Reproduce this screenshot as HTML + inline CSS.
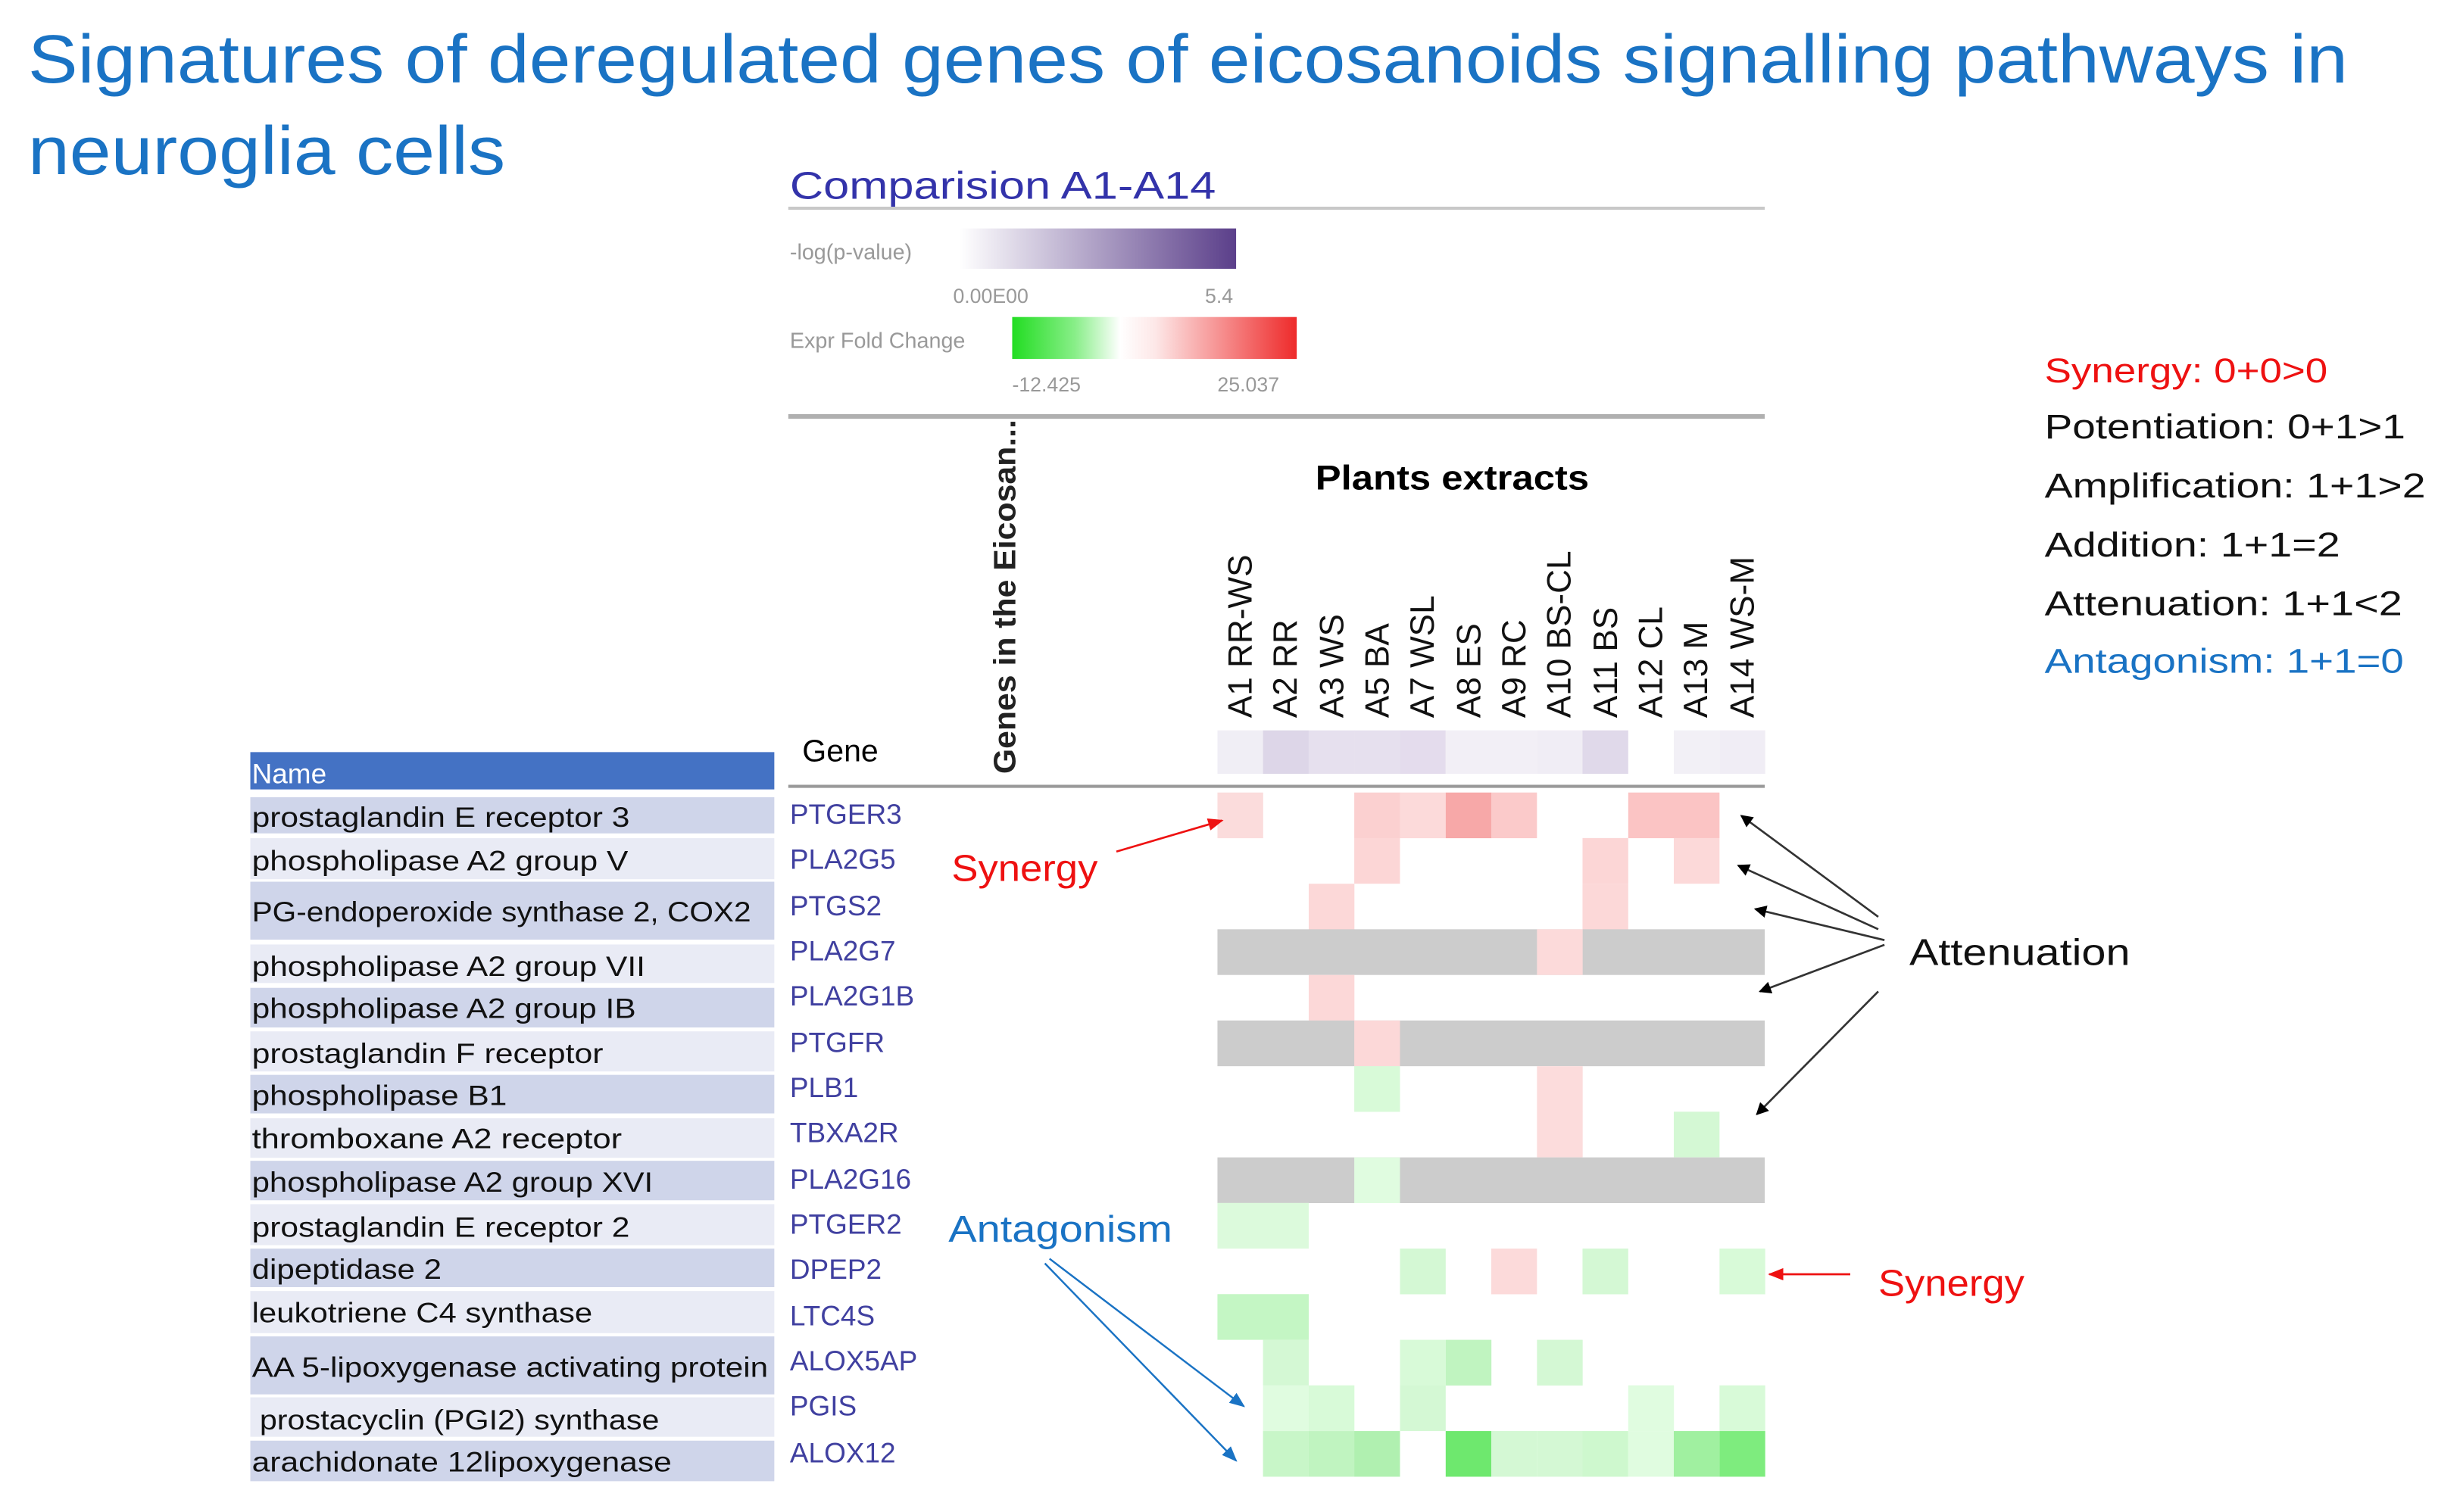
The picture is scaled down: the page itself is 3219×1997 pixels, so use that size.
<!DOCTYPE html>
<html><head><meta charset="utf-8"><style>
html,body{margin:0;padding:0;background:#fff;}
svg{display:block;}
text{font-family:"Liberation Sans",sans-serif;}
</style></head><body>
<svg width="3219" height="1997" viewBox="0 0 1568 973" preserveAspectRatio="none" xmlns="http://www.w3.org/2000/svg">
<defs>
<linearGradient id="gp" x1="0" x2="1"><stop offset="0" stop-color="#ffffff"/><stop offset="1" stop-color="#5b3f8a"/></linearGradient>
<linearGradient id="gf" x1="0" x2="1"><stop offset="0" stop-color="#22dd22"/><stop offset="0.22" stop-color="#88ee88"/><stop offset="0.38" stop-color="#ffffff"/><stop offset="0.5" stop-color="#fde8e8"/><stop offset="1" stop-color="#ee2a2a"/></linearGradient>
<marker id="mk" markerWidth="8" markerHeight="8" refX="7" refY="4" orient="auto" markerUnits="userSpaceOnUse"><path d="M0,0 L8,4 L0,8 z" fill="#000"/></marker>
<marker id="mr" markerWidth="10" markerHeight="8" refX="9" refY="4" orient="auto" markerUnits="userSpaceOnUse"><path d="M0,0 L10,4 L0,8 z" fill="#ee1111"/></marker>
<marker id="mb" markerWidth="10" markerHeight="8" refX="9" refY="4" orient="auto" markerUnits="userSpaceOnUse"><path d="M0,0 L10,4 L0,8 z" fill="#1a73c4"/></marker>
</defs>

<text x="18" y="53" font-size="44" fill="#1a73c4" textLength="1492" lengthAdjust="spacingAndGlyphs">Signatures of deregulated genes of eicosanoids signalling pathways in</text>
<text x="18" y="112" font-size="44" fill="#1a73c4" textLength="307" lengthAdjust="spacingAndGlyphs">neuroglia cells</text>

<text x="508" y="128" font-size="25" fill="#3333aa" textLength="274" lengthAdjust="spacingAndGlyphs">Comparision A1-A14</text>
<line x1="507" y1="134" x2="1135" y2="134" stroke="#c8c8c8" stroke-width="2"/>
<text x="508" y="167" font-size="14" fill="#999">-log(p-value)</text>
<rect x="617" y="147" width="178" height="26" fill="url(#gp)"/>
<text x="613" y="195" font-size="13" fill="#999">0.00E00</text>
<text x="775" y="195" font-size="13" fill="#999">5.4</text>
<text x="508" y="224" font-size="14" fill="#999">Expr Fold Change</text>
<rect x="651" y="204" width="183" height="27" fill="url(#gf)"/>
<text x="651" y="252" font-size="13" fill="#999">-12.425</text>
<text x="783" y="252" font-size="13" fill="#999">25.037</text>
<line x1="507" y1="268" x2="1135" y2="268" stroke="#b0b0b0" stroke-width="3"/>

<text transform="translate(653,498) rotate(-90)" font-size="20" font-weight="bold" fill="#222" textLength="228" lengthAdjust="spacingAndGlyphs">Genes in the Eicosan...</text>
<text x="846" y="315" font-size="22" font-weight="bold" fill="#000" textLength="176" lengthAdjust="spacingAndGlyphs">Plants extracts</text>

<g font-size="21.5" fill="#111">
<text transform="translate(805,462) rotate(-90)">A1 RR-WS</text>
<text transform="translate(834,462) rotate(-90)">A2 RR</text>
<text transform="translate(864,462) rotate(-90)">A3 WS</text>
<text transform="translate(893,462) rotate(-90)">A5 BA</text>
<text transform="translate(922,462) rotate(-90)">A7 WSL</text>
<text transform="translate(952,462) rotate(-90)">A8 ES</text>
<text transform="translate(981,462) rotate(-90)">A9 RC</text>
<text transform="translate(1010,462) rotate(-90)">A10 BS-CL</text>
<text transform="translate(1040,462) rotate(-90)">A11 BS</text>
<text transform="translate(1069,462) rotate(-90)">A12 CL</text>
<text transform="translate(1098,462) rotate(-90)">A13 M</text>
<text transform="translate(1128,462) rotate(-90)">A14 WS-M</text>
</g>

<text x="516" y="490" font-size="20" fill="#000">Gene</text>
<g>
<rect x="783" y="470" width="29.4" height="28" fill="#f0eef5"/>
<rect x="812.3" y="470" width="29.4" height="28" fill="#ddd6e8"/>
<rect x="841.7" y="470" width="29.4" height="28" fill="#e6e0ee"/>
<rect x="871" y="470" width="29.4" height="28" fill="#e6e0ee"/>
<rect x="900.4" y="470" width="29.4" height="28" fill="#e4dced"/>
<rect x="929.8" y="470" width="29.4" height="28" fill="#f2eff6"/>
<rect x="959.1" y="470" width="29.4" height="28" fill="#f2eff6"/>
<rect x="988.5" y="470" width="29.4" height="28" fill="#f0edf5"/>
<rect x="1017.8" y="470" width="29.4" height="28" fill="#e0d9ea"/>
<rect x="1076.5" y="470" width="29.4" height="28" fill="#f2f0f6"/>
<rect x="1105.9" y="470" width="29.4" height="28" fill="#f0edf5"/>
</g>
<line x1="507" y1="506" x2="1135" y2="506" stroke="#999" stroke-width="2"/>

<g id="hm">
<rect x="783" y="510" width="29.4" height="29.4" fill="#fbdcdc"/>
<rect x="871" y="510" width="29.4" height="29.4" fill="#fbd0d0"/>
<rect x="900.4" y="510" width="29.4" height="29.4" fill="#fcdada"/>
<rect x="929.8" y="510" width="29.4" height="29.4" fill="#f7a8a8"/>
<rect x="959.1" y="510" width="29.4" height="29.4" fill="#fbcaca"/>
<rect x="1047.2" y="510" width="29.4" height="29.4" fill="#fbc4c4"/>
<rect x="1076.5" y="510" width="29.4" height="29.4" fill="#fbc4c4"/>
<rect x="871" y="539.3" width="29.4" height="29.4" fill="#fcd6d6"/>
<rect x="1017.8" y="539.3" width="29.4" height="29.4" fill="#fcd6d6"/>
<rect x="1076.5" y="539.3" width="29.4" height="29.4" fill="#fcd9d9"/>
<rect x="841.7" y="568.7" width="29.4" height="29.4" fill="#fcd8d8"/>
<rect x="1017.8" y="568.7" width="29.4" height="29.4" fill="#fcd8d8"/>
<rect x="783" y="598" width="352" height="29.4" fill="#cccccc"/>
<rect x="988.5" y="598" width="29.4" height="29.4" fill="#fcdada"/>
<rect x="841.7" y="627.4" width="29.4" height="29.4" fill="#fcd8d8"/>
<rect x="783" y="656.7" width="352" height="29.4" fill="#cccccc"/>
<rect x="871" y="656.7" width="29.4" height="29.4" fill="#fcd8d8"/>
<rect x="871" y="686.1" width="29.4" height="29.4" fill="#d8fad8"/>
<rect x="988.5" y="686.1" width="29.4" height="29.4" fill="#fcdcdc"/>
<rect x="988.5" y="715.4" width="29.4" height="29.4" fill="#fcdcdc"/>
<rect x="1076.5" y="715.4" width="29.4" height="29.4" fill="#d4f8d4"/>
<rect x="783" y="744.8" width="352" height="29.4" fill="#cccccc"/>
<rect x="871" y="744.8" width="29.4" height="29.4" fill="#e0fce0"/>
<rect x="783" y="774.1" width="58.7" height="29.4" fill="#dcfadc"/>
<rect x="900.4" y="803.5" width="29.4" height="29.4" fill="#d4f8d4"/>
<rect x="959.1" y="803.5" width="29.4" height="29.4" fill="#fcdada"/>
<rect x="1017.8" y="803.5" width="29.4" height="29.4" fill="#d4f8d4"/>
<rect x="1105.9" y="803.5" width="29.4" height="29.4" fill="#d8fad8"/>
<rect x="783" y="832.8" width="58.7" height="29.4" fill="#c4f6c4"/>
<rect x="812.3" y="862.2" width="29.4" height="29.4" fill="#d4f8d4"/>
<rect x="900.4" y="862.2" width="29.4" height="29.4" fill="#d8fad8"/>
<rect x="929.8" y="862.2" width="29.4" height="29.4" fill="#c0f4c0"/>
<rect x="988.5" y="862.2" width="29.4" height="29.4" fill="#d4f8d4"/>
<rect x="812.3" y="891.5" width="29.4" height="29.4" fill="#e0fce0"/>
<rect x="841.7" y="891.5" width="29.4" height="29.4" fill="#d8fad8"/>
<rect x="900.4" y="891.5" width="29.4" height="29.4" fill="#d4f8d4"/>
<rect x="1047.2" y="891.5" width="29.4" height="29.4" fill="#e0fce0"/>
<rect x="1105.9" y="891.5" width="29.4" height="29.4" fill="#d8fad8"/>
<rect x="812.3" y="920.9" width="29.4" height="29.4" fill="#c8f6c8"/>
<rect x="841.7" y="920.9" width="29.4" height="29.4" fill="#c0f4c0"/>
<rect x="871" y="920.9" width="29.4" height="29.4" fill="#b0f0b0"/>
<rect x="929.8" y="920.9" width="29.4" height="29.4" fill="#6ee86e"/>
<rect x="959.1" y="920.9" width="29.4" height="29.4" fill="#d4f8d4"/>
<rect x="988.5" y="920.9" width="29.4" height="29.4" fill="#d4f8d4"/>
<rect x="1017.8" y="920.9" width="29.4" height="29.4" fill="#cef8ce"/>
<rect x="1047.2" y="920.9" width="29.4" height="29.4" fill="#e0fce0"/>
<rect x="1076.5" y="920.9" width="29.4" height="29.4" fill="#a0f0a0"/>
<rect x="1105.9" y="920.9" width="29.4" height="29.4" fill="#7eec7e"/>
</g>

<g font-size="18" fill="#4040a0">
<text x="508" y="530">PTGER3</text>
<text x="508" y="559">PLA2G5</text>
<text x="508" y="589">PTGS2</text>
<text x="508" y="618">PLA2G7</text>
<text x="508" y="647">PLA2G1B</text>
<text x="508" y="677">PTGFR</text>
<text x="508" y="706">PLB1</text>
<text x="508" y="735">TBXA2R</text>
<text x="508" y="765">PLA2G16</text>
<text x="508" y="794">PTGER2</text>
<text x="508" y="823">DPEP2</text>
<text x="508" y="853">LTC4S</text>
<text x="508" y="882">ALOX5AP</text>
<text x="508" y="911">PGIS</text>
<text x="508" y="941">ALOX12</text>
</g>

<rect x="161" y="484" width="337" height="24" fill="#4472c4"/>
<text x="162" y="504" font-size="18" fill="#fff">Name</text>
<g>
<rect x="161" y="513" width="337" height="23.3" fill="#cfd5ea"/>
<rect x="161" y="539.4" width="337" height="26.4" fill="#e9ebf5"/>
<rect x="161" y="567.4" width="337" height="37.3" fill="#cfd5ea"/>
<rect x="161" y="607.8" width="337" height="24.8" fill="#e9ebf5"/>
<rect x="161" y="635.7" width="337" height="25.5" fill="#cfd5ea"/>
<rect x="161" y="663.7" width="337" height="25.8" fill="#e9ebf5"/>
<rect x="161" y="691.7" width="337" height="24.8" fill="#cfd5ea"/>
<rect x="161" y="719.6" width="337" height="25.5" fill="#e9ebf5"/>
<rect x="161" y="747" width="337" height="25.4" fill="#cfd5ea"/>
<rect x="161" y="774.9" width="337" height="26.4" fill="#e9ebf5"/>
<rect x="161" y="803.5" width="337" height="24.8" fill="#cfd5ea"/>
<rect x="161" y="830.8" width="337" height="27.1" fill="#e9ebf5"/>
<rect x="161" y="860" width="337" height="37.3" fill="#cfd5ea"/>
<rect x="161" y="899.2" width="337" height="25.4" fill="#e9ebf5"/>
<rect x="161" y="927.1" width="337" height="26.1" fill="#cfd5ea"/>
</g>
<g font-size="18" fill="#111">
<text x="162" y="532" textLength="243" lengthAdjust="spacingAndGlyphs">prostaglandin E receptor 3</text>
<text x="162" y="560" textLength="242" lengthAdjust="spacingAndGlyphs">phospholipase A2 group V</text>
<text x="162" y="593" textLength="321" lengthAdjust="spacingAndGlyphs">PG-endoperoxide synthase 2, COX2</text>
<text x="162" y="628" textLength="253" lengthAdjust="spacingAndGlyphs">phospholipase A2 group VII</text>
<text x="162" y="655" textLength="247" lengthAdjust="spacingAndGlyphs">phospholipase A2 group IB</text>
<text x="162" y="684" textLength="226" lengthAdjust="spacingAndGlyphs">prostaglandin F receptor</text>
<text x="162" y="711" textLength="164" lengthAdjust="spacingAndGlyphs">phospholipase B1</text>
<text x="162" y="739" textLength="238" lengthAdjust="spacingAndGlyphs">thromboxane A2 receptor</text>
<text x="162" y="767" textLength="258" lengthAdjust="spacingAndGlyphs">phospholipase A2 group XVI</text>
<text x="162" y="796" textLength="243" lengthAdjust="spacingAndGlyphs">prostaglandin E receptor 2</text>
<text x="162" y="823" textLength="122" lengthAdjust="spacingAndGlyphs">dipeptidase 2</text>
<text x="162" y="851" textLength="219" lengthAdjust="spacingAndGlyphs">leukotriene C4 synthase</text>
<text x="162" y="886" textLength="332" lengthAdjust="spacingAndGlyphs">AA 5-lipoxygenase activating protein</text>
<text x="167" y="920" textLength="257" lengthAdjust="spacingAndGlyphs">prostacyclin (PGI2) synthase</text>
<text x="162" y="947" textLength="270" lengthAdjust="spacingAndGlyphs">arachidonate 12lipoxygenase</text>
</g>

<g font-size="22">
<text x="1315" y="246" fill="#ee1111" textLength="182" lengthAdjust="spacingAndGlyphs">Synergy: 0+0&gt;0</text>
<text x="1315" y="282" fill="#111" textLength="232" lengthAdjust="spacingAndGlyphs">Potentiation: 0+1&gt;1</text>
<text x="1315" y="320" fill="#111" textLength="245" lengthAdjust="spacingAndGlyphs">Amplification: 1+1&gt;2</text>
<text x="1315" y="358" fill="#111" textLength="190" lengthAdjust="spacingAndGlyphs">Addition: 1+1=2</text>
<text x="1315" y="396" fill="#111" textLength="230" lengthAdjust="spacingAndGlyphs">Attenuation: 1+1&lt;2</text>
<text x="1315" y="433" fill="#1a73c4" textLength="231" lengthAdjust="spacingAndGlyphs">Antagonism: 1+1=0</text>
</g>

<text x="612" y="567" font-size="24" fill="#ee1111" textLength="94" lengthAdjust="spacingAndGlyphs">Synergy</text>
<line x1="718" y1="548" x2="786" y2="528" stroke="#ee1111" stroke-width="1.3" marker-end="url(#mr)"/>
<text x="610" y="799" font-size="24" fill="#1a73c4" textLength="144" lengthAdjust="spacingAndGlyphs">Antagonism</text>
<line x1="675" y1="810" x2="800" y2="905" stroke="#1a73c4" stroke-width="1.2" marker-end="url(#mb)"/>
<line x1="672" y1="813" x2="795" y2="940" stroke="#1a73c4" stroke-width="1.2" marker-end="url(#mb)"/>
<text x="1228" y="621" font-size="24" fill="#111" textLength="142" lengthAdjust="spacingAndGlyphs">Attenuation</text>
<g stroke="#333" stroke-width="1.3" fill="none">
<line x1="1208" y1="590" x2="1120" y2="525" marker-end="url(#mk)"/>
<line x1="1208" y1="598" x2="1118" y2="557" marker-end="url(#mk)"/>
<line x1="1212" y1="605" x2="1129" y2="585" marker-end="url(#mk)"/>
<line x1="1212" y1="608" x2="1132" y2="638" marker-end="url(#mk)"/>
<line x1="1208" y1="638" x2="1130" y2="717" marker-end="url(#mk)"/>
</g>
<text x="1208" y="834" font-size="24" fill="#ee1111" textLength="94" lengthAdjust="spacingAndGlyphs">Synergy</text>
<line x1="1190" y1="820" x2="1138" y2="820" stroke="#ee1111" stroke-width="1.3" marker-end="url(#mr)"/>
</svg>
</body></html>
